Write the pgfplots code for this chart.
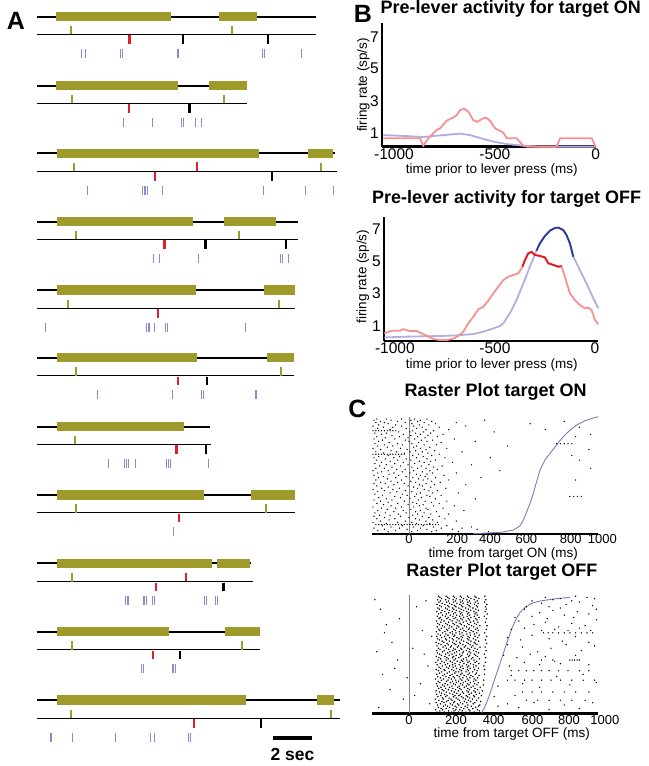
\documentclass[border=0pt]{standalone}
\usepackage{fontspec}
\setmainfont{Liberation Sans}
\usepackage{pgfplots}
\usepackage{pgfplotstable}
\pgfplotsset{compat=1.18}
\definecolor{olivebar}{RGB}{158,155,43}
\definecolor{spikeblue}{RGB}{135,140,205}
\definecolor{redtick}{RGB}{228,30,40}
\definecolor{lred}{RGB}{246,145,145}
\definecolor{dred}{RGB}{225,25,30}
\definecolor{lblue}{RGB}{178,175,222}
\definecolor{dblue}{RGB}{40,60,150}
\definecolor{rtblue}{RGB}{125,125,185}

\pgfplotstableread{
t a b c d e
98 -170 -120 -40 30 95
97 -185 -95 10 60 400
96 -150 -60 45 120 820
95 -175 -130 -20 80 250
94 -110 15 140 640 nan
93 -160 -70 55 105 nan
92 -190 -40 25 300 nan
91 -135 -85 70 160 900
90 -165 -15 40 nan nan
89 -100 90 210 720 nan
88 20 130 nan nan nan
87 -55 5 75 450 nan
86 -180 -120 35 115 nan
85 -145 -30 60 180 960
84 -90 10 100 nan nan
83 -170 -50 45 150 880
82 -125 -5 85 nan nan
81 -185 -75 30 240 nan
80 -140 -20 65 125 nan
79 -160 0 95 350 nan
78 -105 50 170 nan nan
77 -180 -60 15 nan nan
76 -130 -35 80 145 nan
75 -165 -85 40 520 nan
74 -115 25 110 nan nan
73 -190 -45 60 200 nan
72 -150 -10 90 950 nan
71 -95 35 135 nan nan
70 -175 -65 5 70 280
69 -135 -25 100 nan nan
68 50 160 nan nan nan
67 -110 20 120 860 nan
66 -160 -50 75 nan nan
65 -185 -80 40 190 430
64 -125 -15 95 nan nan
63 -170 -60 10 140 900
62 -100 55 115 nan nan
61 -145 -30 80 230 nan
60 -180 -75 30 nan nan
59 -120 -5 105 330 nan
58 -155 -45 65 175 nan
57 -90 15 130 nan nan
56 -175 -130 45 90 960
55 -65 -20 150 nan nan
54 -190 -110 25 110 480
53 -145 -35 70 nan nan
52 -165 -80 5 125 250
51 -105 40 95 nan nan
50 -185 -55 60 185 nan
49 -135 -15 85 nan nan
48 -160 -70 20 140 380
47 -115 50 100 nan nan
46 -175 -40 75 210 880
45 -95 10 120 nan nan
44 -150 -60 35 165 nan
43 -185 -125 -25 90 nan
42 -80 55 135 300 nan
41 -170 -5 70 nan nan
40 -110 25 115 nan nan
39 -145 -50 45 195 nan
38 -190 -85 80 nan nan
37 -130 -20 105 150 nan
36 -165 -65 15 nan nan
35 -100 60 125 260 nan
34 -180 -35 40 nan nan
33 -140 -10 95 170 nan
32 -75 30 110 nan nan
31 -160 -45 65 nan nan
30 -120 5 140 350 nan
29 -185 -90 50 nan nan
28 -150 -25 85 200 nan
27 -110 20 120 nan nan
26 -170 -60 40 160 nan
25 -135 -5 75 nan nan
24 -95 55 130 240 nan
23 -190 -40 25 nan nan
22 -145 -70 90 180 nan
21 -115 10 100 nan nan
20 -165 -30 60 290 nan
19 -80 35 145 nan nan
18 -180 -125 -15 80 nan
17 -55 45 115 210 nan
16 -155 -100 20 nan nan
15 -185 -45 70 160 nan
14 -130 0 105 nan nan
13 -170 -75 35 190 nan
12 -105 55 125 nan nan
11 -150 -20 90 250 nan
10 -190 -60 15 150 nan
9 -120 40 110 nan nan
7 -140 -35 75 200 nan
6 -95 25 130 330 nan
5 -185 -50 60 170 280
4 -130 -10 95 230 360
3 -165 -70 45 145 nan
2 -110 15 120 260 420
}\onraster

\pgfplotstableread{
t a b c d e f g
1 148 187 226 262 301 344 nan
2 163 209 238 281 322 371 nan
3 141 178 247 269 316 361 nan
4 170 196 233 290 337 nan nan
5 155 214 251 276 308 352 nan
6 182 203 244 297 329 366 nan
7 151 192 229 263 311 374 nan
8 166 218 256 284 339 nan nan
9 144 185 236 272 305 348 nan
10 174 199 241 293 326 379 nan
11 158 207 228 267 314 357 nan
12 139 181 222 259 298 335 nan
13 177 212 249 286 321 368 nan
14 153 194 235 278 309 346 nan
15 168 201 243 264 302 341 383
16 146 189 231 271 318 355 nan
17 172 216 253 289 330 372 nan
18 160 197 239 282 313 350 nan
19 143 184 225 261 306 343 388
20 175 208 246 275 320 362 nan
21 157 193 232 268 311 349 nan
22 169 214 257 292 328 376 nan
23 150 186 227 265 303 339 nan
24 178 205 244 283 317 359 392
25 145 191 236 273 310 347 nan
26 163 219 250 287 324 366 nan
27 154 198 230 262 299 341 nan
28 171 206 247 279 315 353 395
29 141 183 224 270 307 344 nan
30 166 211 240 285 322 363 nan
31 152 195 234 266 304 338 nan
32 179 217 254 291 327 370 nan
33 147 188 228 274 312 351 398
34 161 202 242 280 319 356 nan
35 173 213 248 263 301 337 nan
36 156 190 237 277 314 360 nan
37 144 185 226 269 308 346 400
38 168 209 251 286 323 367 nan
39 159 199 233 272 309 342 nan
40 176 215 245 281 316 354 396
41 149 192 231 265 304 340 nan
42 165 204 243 290 325 369 nan
43 142 187 229 270 311 349 403
44 174 218 255 284 318 357 nan
45 153 196 238 276 306 343 nan
46 167 207 246 288 329 372 nan
47 158 200 230 263 302 337 405
48 145 189 235 273 315 361 nan
49 171 212 249 279 320 352 nan
50 162 194 227 268 309 345 398
51 150 205 241 283 326 367 nan
52 177 216 252 287 317 355 nan
53 146 186 232 266 303 341 407
54 164 210 244 278 321 362 nan
55 155 197 236 274 311 348 nan
56 180 219 256 292 330 375 402
57 148 191 225 262 300 338 nan
58 169 208 247 285 323 359 nan
59 157 201 239 271 313 350 410
60 143 184 230 267 305 344 nan
61 175 213 250 289 327 368 nan
62 160 198 234 277 316 353 404
63 151 193 228 264 308 340 nan
64 172 214 253 282 319 363 nan
65 147 188 237 275 312 349 411
66 166 206 242 286 324 371 nan
67 154 195 231 269 306 345 nan
68 178 217 248 280 322 358 400
69 145 190 229 266 301 339 nan
70 163 204 245 290 328 366 nan
71 158 199 236 273 314 351 408
72 170 211 251 284 320 360 nan
73 149 187 226 263 304 342 nan
74 176 215 254 293 331 374 412
75 161 203 240 276 317 356 nan
76 152 194 233 270 309 347 nan
77 168 209 249 287 325 364 403
78 146 185 228 265 302 341 nan
79 173 216 255 281 318 359 nan
80 159 200 238 274 313 352 409
81 165 207 246 288 327 370 nan
82 150 192 232 268 307 345 398
83 177 218 252 283 321 361 nan
84 156 197 235 272 310 349 413
85 169 210 244 279 316 355 nan
86 147 189 229 267 305 343 402
87 174 213 250 289 326 367 nan
88 160 202 237 275 314 353 408
89 153 194 231 264 300 338 nan
90 171 211 248 284 322 362 405
91 162 205 241 278 317 357 nan
92 148 190 227 269 308 346 411
93 175 214 253 286 324 365 nan
94 158 199 236 273 311 350 399
95 166 208 245 282 319 360 nan
96 151 193 233 270 306 344 406
97 172 212 250 288 327 369 nan
98 163 204 240 277 315 354 nan
99 155 196 234 271 309 348 401
}\offcloud

\begin{document}
\begin{tikzpicture}
\useasboundingbox (0,0) rectangle (649bp,766bp);

%================ Panel A ================
\begin{axis}[at={(0bp,0bp)}, anchor=south west, scale only axis,
  width=340bp, height=766bp, xmin=0, xmax=340, ymin=0, ymax=766,
  y dir=reverse, hide axis, clip=false, unbounded coords=jump]
% trial lines (full length, bars drawn on top)
\addplot[black, line width=1.8bp] coordinates {
(36.7,16.7) (316,16.7) (0,nan)
(36.7,85.7) (247,85.7) (0,nan)
(36.7,153.3) (335,153.3) (0,nan)
(36.7,221.7) (297.7,221.7) (0,nan)
(36.7,290) (295.3,290) (0,nan)
(36.7,357.7) (294.3,357.7) (0,nan)
(36.7,426.7) (209.7,426.7) (0,nan)
(36.7,495) (294.7,495) (0,nan)
(36.7,563.3) (251,563.3) (0,nan)
(36.7,631.7) (259.7,631.7) (0,nan)
(36.7,700) (340,700)};
\addplot[black, line width=1bp] coordinates {
(36.7,34.3) (316,34.3) (0,nan)
(36.7,103.3) (246.7,103.3) (0,nan)
(36.7,171.3) (336.7,171.3) (0,nan)
(36.7,239.3) (297.7,239.3) (0,nan)
(36.7,308.3) (295.3,308.3) (0,nan)
(36.7,375.7) (294.3,375.7) (0,nan)
(36.7,444.3) (210.7,444.3) (0,nan)
(36.7,512.7) (294.7,512.7) (0,nan)
(36.7,581.7) (253.3,581.7) (0,nan)
(36.7,649.7) (259.7,649.7) (0,nan)
(36.7,718) (340,718)};
% olive epoch bars
\addplot[olivebar, line width=9.3bp] coordinates {
(56,16.7) (171,16.7) (0,nan) (219,16.7) (257,16.7) (0,nan)
(56,85.7) (177.7,85.7) (0,nan) (209,85.7) (247,85.7) (0,nan)
(56.7,153.3) (258.7,153.3) (0,nan) (307.7,153.3) (333.3,153.3) (0,nan)
(56.7,221.7) (192.7,221.7) (0,nan) (224.3,221.7) (275.7,221.7) (0,nan)
(56.7,290) (195.7,290) (0,nan) (264.3,290) (295.3,290) (0,nan)
(56.7,357.7) (197,357.7) (0,nan) (266.7,357.7) (294.3,357.7) (0,nan)
(56.7,426.7) (184,426.7) (0,nan)
(56.7,495) (203.7,495) (0,nan) (250.7,495) (294.7,495) (0,nan)
(56.7,563.3) (212.3,563.3) (0,nan) (217.3,563.3) (250,563.3) (0,nan)
(56.7,631.7) (169,631.7) (0,nan) (225,631.7) (259.7,631.7) (0,nan)
(56.7,700) (245.7,700) (0,nan) (317.3,700) (333.7,700)};
% olive event ticks
\addplot[olivebar, only marks, mark=|, mark size=4.2bp, mark options={line width=2.1bp}] coordinates {
(70.7,30.1) (232,30.1) (71.7,99.1) (223.7,99.1) (73.7,167.1) (321,167.1)
(76.3,235.1) (239.3,235.1) (68.3,304.1) (279.3,304.1) (75.7,371.5) (281,371.5)
(75.3,440.1) (75.7,508.5) (265.7,508.5) (72.3,577.5) (72.3,645.5) (242,645.5)
(71,713.8) (330.7,713.8)};
% red event ticks
\addplot[redtick, only marks, mark=|, mark size=4.4bp, mark options={line width=2.4bp}] coordinates {
(129.3,39.5) (129,108.5) (155,176.5) (196.7,166.5) (164.3,244.5) (158,313.5)
(178,380.9) (176.3,449.5) (179,517.9) (155.7,586.9) (186,576.9) (152.7,654.9) (193.7,723.2)};
% black event ticks
\addplot[black, only marks, mark=|, mark size=4.4bp, mark options={line width=2.4bp}] coordinates {
(182.7,39.5) (268,39.5) (189.3,108.5) (271.7,176.5) (205.3,244.5) (286,244.5)
(206.7,380.9) (205.7,449.5) (223.3,586.9) (179.7,654.9) (261,723.2)};
% spikes
\addplot[spikeblue, only marks, mark=|, mark size=4.5bp, mark options={line width=0.9bp}] coordinates {
(81,53.3) (85.3,53.3) (120.7,53.3) (122.3,53.3) (177.3,53.3) (178.7,53.3) (262,53.3) (264,53.3) (301,53.3)
(123.7,122.3) (152.3,122.3) (181.7,122.3) (183.3,122.3) (195,122.3) (201,122.3)
(87.3,190.3) (142.7,190.3) (144,190.3) (145.7,190.3) (147.3,190.3) (162.3,190.3) (263.7,190.3) (305.3,190.3) (333.3,190.3)
(153.3,258.3) (159,258.3) (198,258.3) (280.7,258.3) (282.3,258.3) (288,258.3)
(45,327.3) (146.7,327.3) (148,327.3) (149.7,327.3) (154.7,327.3) (165.7,327.3) (167,327.3) (245.3,327.3)
(97.3,394.7) (172.3,394.7) (201.7,394.7) (203.7,394.7) (255.7,394.7) (256.7,394.7)
(108.7,463.3) (124,463.3) (126,463.3) (128,463.3) (135.3,463.3) (166.3,463.3) (168.3,463.3) (170.3,463.3) (208.7,463.3)
(173.3,531.7)
(125.7,600.7) (127,600.7) (128.7,600.7) (143,600.7) (144.7,600.7) (146.3,600.7) (152.7,600.7) (154,600.7) (204.7,600.7) (206.3,600.7) (215.3,600.7) (217.3,600.7)
(141,668.7) (143.3,668.7) (172.3,668.7) (173.7,668.7) (175.3,668.7)
(50.7,737) (51.7,737) (72.3,737) (115,737) (150.7,737) (154.7,737) (188.7,737) (190.7,737)};
% scale bar
\addplot[black, line width=4bp] coordinates {(273,738.3) (312,738.3)};
\node[font=\bfseries\fontsize{17.5bp}{18bp}\selectfont] at (axis cs:292.5,754) {2 sec};
\node[font=\bfseries\fontsize{25bp}{26bp}\selectfont] at (axis cs:16,21) {A};
\end{axis}

%================ Panel B top ================
\begin{axis}[at={(382.3bp,619.3bp)}, anchor=south west, scale only axis,
  width=213.4bp, height=123.4bp, xmin=-1058, xmax=0, ymin=0.125, ymax=7.84,
  axis x line=bottom, axis y line=left, axis line style={-},
  x axis line style={line width=2.4bp}, y axis line style={line width=1.8bp},
  xtick={-1000,-500,0}, xticklabels={-1000,-500,0}, ytick={1,3,5,7},
  major tick length=0pt, clip=false,
  /pgf/number format/assume math mode=true,
  ticklabel style={font=\fontsize{15.5bp}{16bp}\selectfont},
  xticklabel style={yshift=2bp},
  title={Pre-lever activity for target ON},
  title style={at={(axis description cs:0.602,1.068)}, anchor=center, font=\bfseries\fontsize{18bp}{20bp}\selectfont},
  xlabel={time prior to lever press (ms)},
  xlabel style={at={(axis description cs:0.513,-0.192)}, anchor=center, font=\fontsize{13.5bp}{14bp}\selectfont},
  ylabel={firing rate (sp/s)},
  ylabel style={at={(axis description cs:-0.089,0.5)}, anchor=center, font=\fontsize{13.5bp}{14bp}\selectfont}]
\addplot[lblue, line width=1.8bp] coordinates {
(-1053,0.85) (-937,0.79) (-855,0.73) (-772,0.83) (-673,0.94) (-623,0.85) (-574,0.67)
(-507,0.44) (-441,0.29) (-342,0.17) (-276,0.13) (0,0.13)};
\addplot[lred, line width=1.8bp] coordinates {
(-1053,0.65) (-871,0.65) (-855,0.19) (-830,0.65) (-788,1.17) (-772,1.27) (-739,1.75)
(-706,1.95) (-689,2.1) (-673,2.41) (-653,2.51) (-631,2.31) (-607,1.79) (-587,1.68)
(-565,1.85) (-544,1.95) (-524,1.75) (-499,1.27) (-474,1.12) (-458,1.0) (-441,0.65)
(-392,0.65) (-359,0.19) (-342,0.13) (-193,0.13) (-177,0.65) (-20,0.65) (0,0.13)};
\end{axis}

%================ Panel B bottom ================
\begin{axis}[at={(384.3bp,425bp)}, anchor=south west, scale only axis,
  width=214bp, height=124.3bp, xmin=-1053, xmax=17, ymin=0.05, ymax=7.78,
  axis x line=bottom, axis y line=left, axis line style={-},
  x axis line style={line width=2.4bp}, y axis line style={line width=1.8bp},
  xtick={-1000,-500,0}, xticklabels={-1000,-500,0}, ytick={1,3,5,7},
  major tick length=0pt, clip=false,
  /pgf/number format/assume math mode=true,
  ticklabel style={font=\fontsize{15.5bp}{16bp}\selectfont},
  xticklabel style={yshift=2bp},
  title={Pre-lever activity for target OFF},
  title style={at={(axis description cs:0.572,1.094)}, anchor=center, font=\bfseries\fontsize{18bp}{20bp}\selectfont},
  xlabel={time prior to lever press (ms)},
  xlabel style={at={(axis description cs:0.502,-0.19)}, anchor=center, font=\fontsize{13.5bp}{14bp}\selectfont},
  ylabel={firing rate (sp/s)},
  ylabel style={at={(axis description cs:-0.1,0.517)}, anchor=center, font=\fontsize{13.5bp}{14bp}\selectfont}]
\addplot[lblue, line width=1.8bp] coordinates {
(-1053,0.27) (-942,0.32) (-775,0.36) (-692,0.40) (-608,0.48) (-558,0.63) (-508,0.83)
(-475,0.98) (-458,1.15) (-425,1.77) (-392,2.60) (-358,3.63) (-325,4.67) (-292,5.67)
(-275,6.12) (-250,6.58) (-225,6.91) (-200,7.08) (-183,7.10) (-158,6.95) (-142,6.64)
(-125,6.12) (-108,5.29) (-75,4.46) (-42,3.63) (-8,2.70) (17,2.08)};
\addplot[lred, line width=1.8bp] coordinates {
(-1053,0.52) (-1033,0.63) (-1008,0.69) (-975,0.69) (-958,0.79) (-942,0.73) (-925,0.67)
(-892,0.67) (-858,0.48) (-825,0.27) (-800,0.15) (-775,0.11) (-742,0.11) (-708,0.19)
(-683,0.36) (-658,0.63) (-633,1.15) (-608,1.56) (-583,2.02) (-558,2.18) (-533,2.56)
(-508,3.01) (-483,3.43) (-458,3.84) (-433,4.05) (-408,4.15) (-383,4.26) (-362,4.67)
(-350,5.09) (-333,5.50) (-317,5.59) (-300,5.40) (-275,5.34) (-250,5.25) (-233,4.88)
(-208,4.78) (-183,4.67) (-167,4.71) (-150,4.05) (-125,3.01) (-100,2.60) (-75,2.29)
(-50,2.08) (-33,2.12) (-17,1.98) (0,1.35) (17,1.10)};
\addplot[dblue, line width=1.8bp] coordinates {
(-292,5.67) (-275,6.12) (-250,6.58) (-225,6.91) (-200,7.08) (-183,7.10) (-158,6.95)
(-142,6.64) (-125,6.12) (-108,5.29)};
\addplot[dred, line width=1.8bp] coordinates {
(-362,4.67) (-350,5.09) (-333,5.50) (-317,5.59) (-300,5.40) (-275,5.34) (-250,5.25)
(-233,4.88) (-208,4.78) (-183,4.67) (-167,4.71)};
\end{axis}

%================ Panel C top ================
\begin{axis}[at={(371.7bp,232bp)}, anchor=south west, scale only axis,
  width=226.6bp, height=117.3bp, xmin=-197, xmax=1000, ymin=0, ymax=100,
  axis x line=bottom, axis y line=none, axis line style={-},
  x axis line style={line width=2.4bp},
  xtick={0,255,428,620,854,1000},
  xticklabels={0,200,400,600,800,\hspace*{8bp}1000},
  major tick length=0pt, clip=false,
  ticklabel style={font=\fontsize{13bp}{14bp}\selectfont},
  xticklabel style={yshift=3.5bp},
  title={Raster Plot target ON},
  title style={at={(axis description cs:0.547,1.157)}, anchor=center, font=\bfseries\fontsize{18bp}{20bp}\selectfont},
  xlabel={time from target ON (ms)},
  xlabel style={at={(axis description cs:0.581,-0.172)}, anchor=center, font=\fontsize{13.5bp}{14bp}\selectfont},
  ylabel={Trials arranged by RT},
  ylabel style={at={(axis description cs:-0.044,0.489)}, anchor=center, font=\fontsize{13.5bp}{14bp}\selectfont}]
\pgfplotsinvokeforeach{a,b,c,d,e}{
  \addplot[only marks, mark=*, mark size=0.42bp, mark options={draw=none, fill=black!40}] table[x=#1, y=t] {\onraster};
}
\addplot[only marks, mark=*, mark size=0.42bp, mark options={draw=none, fill=black!40}] coordinates {
(-190,88) (-175,88) (-160,88) (-145,88) (-130,88) (-115,88) (-100,88) (-85,88) (-70,88)
(-190,68) (-175,68) (-160,68) (-145,68) (-130,68) (-115,68) (-100,68) (-85,68) (-70,68) (-55,68) (-40,68) (-25,68)
(-175,8) (-160,8) (-145,8) (-130,8) (-115,8) (-100,8) (-85,8) (-70,8) (-55,8) (-40,8) (-25,8) (-10,8)
(5,8) (20,8) (35,8) (50,8) (65,8) (80,8) (95,8) (110,8) (125,8) (140,8) (155,8)
(780,77) (800,77) (820,77) (840,77) (860,77) (850,32) (870,32) (890,32) (910,32)};
\addplot[rtblue, line width=0.8bp] coordinates {(0,0) (0,100)};
\addplot[rtblue, line width=0.9bp] coordinates {
(340,0.3) (428,0.9) (498,1.7) (551,3.4) (586,6.8) (604,11.9) (622,19) (639,26.1)
(657,34.7) (674,44.6) (692,54.5) (718,63.1) (745,68.8) (780,75.9) (815,83)
(851,88.6) (886,92.9) (930,96.6) (974,98.9) (1000,100)};
\end{axis}

%================ Panel C bottom ================
\begin{axis}[at={(371.7bp,52.7bp)}, anchor=south west, scale only axis,
  width=226.6bp, height=118.3bp, xmin=-197, xmax=1000, ymin=0, ymax=100,
  axis x line=bottom, axis y line=none, axis line style={-},
  x axis line style={line width=2.4bp},
  xtick={0,248,447,652,845,1000},
  xticklabels={0,200,400,600,800,\hspace*{13bp}1000},
  major tick length=0pt, clip=false,
  ticklabel style={font=\fontsize{13bp}{14bp}\selectfont},
  xticklabel style={yshift=1.5bp},
  title={Raster Plot target OFF},
  title style={at={(axis description cs:0.574,1.141)}, anchor=center, font=\bfseries\fontsize{18bp}{20bp}\selectfont},
  xlabel={time from target OFF (ms)},
  xlabel style={at={(axis description cs:0.618,-0.172)}, anchor=center, font=\fontsize{13.5bp}{14bp}\selectfont},
  ylabel={Trials arranged by RT},
  ylabel style={at={(axis description cs:-0.044,0.521)}, anchor=center, font=\fontsize{13.5bp}{14bp}\selectfont}]
\pgfplotsinvokeforeach{a,b,c,d,e,f,g}{
  \addplot[only marks, mark=*, mark size=0.5bp, mark options={draw=none, fill=black!75}] table[x=#1, y=t] {\offcloud};
}
\addplot[only marks, mark=*, mark size=0.45bp, mark options={draw=none, fill=black!55}] coordinates {
(720,98) (800,97) (880,99) (940,98) (980,97)
(650,95) (700,93) (760,96) (830,92) (900,94) (970,91) (620,90) (740,90) (860,95)
(610,88) (690,85) (760,87) (820,83) (890,86) (950,84) (560,81) (650,82) (730,80) (800,89) (870,81) (990,88)
(710,68) (735,68) (760,68) (790,68) (820,68) (850,68) (880,68) (910,68) (940,68) (970,68)
(580,78) (660,75) (720,77) (790,73) (860,76) (930,74) (990,79) (540,71) (610,72) (700,70) (770,71) (840,70) (900,72) (960,70)
(520,64) (590,62) (650,66) (740,63) (810,61) (880,65) (950,60)
(850,45) (862,45) (875,45) (888,45) (900,45) (700,45) (760,45)
(520,58) (600,56) (680,52) (750,55) (830,58) (910,53) (980,57) (500,49) (570,47) (640,50) (720,48) (800,42) (880,49) (950,41) (530,40) (610,43) (690,41) (770,44)
(540,36) (580,36) (620,36) (660,36) (700,36) (740,36) (790,36) (840,36) (900,36) (950,36)
(520,28) (560,28) (610,28) (650,28) (700,28) (750,28) (800,28) (860,28) (920,28) (980,28)
(600,18) (650,18) (700,18) (760,18) (820,18) (880,18) (950,18)
(620,11) (680,11) (740,11) (800,11) (860,11) (930,11)
(470,23) (540,32) (600,25) (690,22) (780,31) (850,24) (920,33) (990,26) (450,14) (520,8) (580,5) (660,9) (740,3) (820,7) (900,4) (970,9) (470,6) (560,15)
(-180,96) (-150,88) (-120,75) (-90,60) (-170,52) (-60,45) (-140,33) (-100,20) (-30,12) (-160,5)
(40,90) (70,70) (20,55) (100,40) (60,25) (110,8) (-50,80) (90,95) (120,65) (-10,30) (30,15) (80,50) (-130,68) (-75,38)};
\addplot[rtblue, line width=0.8bp] coordinates {(0,0) (0,100)};
\addplot[rtblue, line width=0.9bp] coordinates {
(384,0.6) (401,5.6) (419,12.7) (437,21.1) (454,29.6) (472,38) (490,46.5) (507,54.9)
(525,63.4) (542,71) (565,79.4) (586,85.1) (613,89.6) (648,93) (692,94.9) (763,96.6) (851,98)};
\end{axis}

\node[font=\bfseries\fontsize{25bp}{26bp}\selectfont] at (363bp,752.5bp) {B};
\node[font=\bfseries\fontsize{25bp}{26bp}\selectfont] at (357.5bp,357bp) {C};
\end{tikzpicture}
\end{document}
